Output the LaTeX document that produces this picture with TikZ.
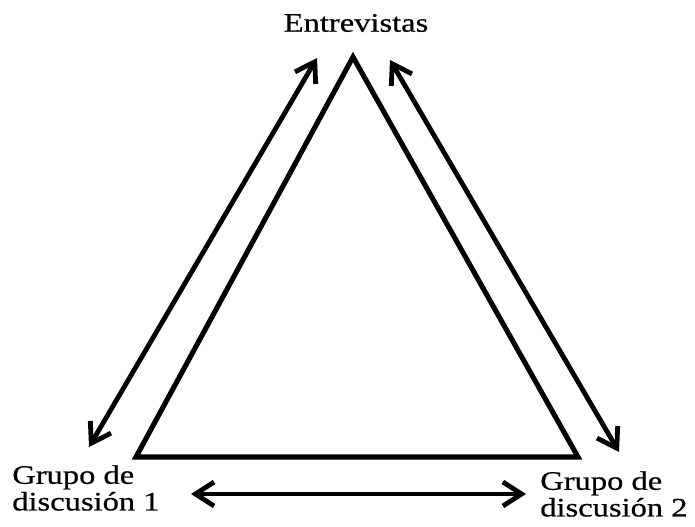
\documentclass[tikz,border=0pt]{standalone}
\usepackage{fontspec}
\setmainfont{Liberation Serif}[FakeStretch=1.22,FakeBold=0.6]
\usetikzlibrary{arrows.meta}
\begin{document}
\begin{tikzpicture}[x=0.75pt,y=-0.75pt,
  edge/.style={line width=3.8pt,line join=miter},
  link/.style={line width=3.6pt,{Straight Barb[length=14pt,width=18pt,line width=3.6pt]}-{Straight Barb[length=14pt,width=18pt,line width=3.6pt]}},
  lbl/.style={font=\fontsize{20pt}{23pt}\selectfont,inner sep=0pt,align=left}]
\useasboundingbox (0,0) rectangle (695,527);
\coordinate (top) at (353,57);
\coordinate (bl) at (136,457);
\coordinate (br) at (578,457);
\draw[edge] (top) -- (bl) -- (br) -- cycle;
\coordinate (la) at (89,447);
\coordinate (lb) at (317,58);
\coordinate (ra) at (390,60);
\coordinate (rb) at (619,452);
\coordinate (ba) at (191,494);
\coordinate (bb) at (526,494);
\draw[link] (la) -- (lb);
\draw[link] (ra) -- (rb);
\draw[link] (ba) -- (bb);
\node[lbl,anchor=center] (ent) at (356,23) {Entrevistas};
\node[lbl,anchor=west] (g1) at (12,488) {Grupo de\\[-3pt]discusión 1};
\node[lbl,anchor=west] (g2) at (540,494) {Grupo de\\[-3pt]discusión 2};
\end{tikzpicture}
\end{document}
